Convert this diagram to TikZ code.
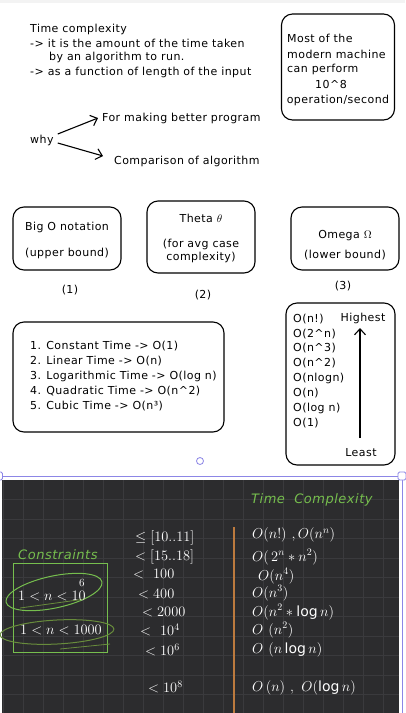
\documentclass[tikz,border=0pt]{standalone}
\usepackage{fontspec}
\setmainfont{DejaVu Sans}[LetterSpace=4]
\usetikzlibrary{arrows.meta}
\definecolor{selpurple}{RGB}{140,134,230}
\definecolor{boardbg}{RGB}{44,44,46}
\definecolor{boardgrid}{RGB}{58,58,61}
\definecolor{chalkgreen}{RGB}{118,190,78}
\definecolor{olivegreen}{RGB}{104,140,60}
\definecolor{chalkorange}{RGB}{188,122,62}
\definecolor{topband}{RGB}{243,243,243}
\tikzset{
  txt/.style={anchor=west, inner sep=0pt, font=\fontsize{11}{13}\selectfont},
  ctxt/.style={inner sep=0pt, font=\fontsize{11}{13}\selectfont},
  sbox/.style={draw, line width=1.1pt, rounded corners=11pt, inner sep=0pt},
  harrow/.style={line width=1.1pt, -{Straight Barb[length=6pt,width=11pt,line width=1.1pt]}},
  chalk/.style={text=white, anchor=west, inner sep=0pt, font=\fontsize{14}{16}\selectfont},
  gchalk/.style={text=chalkgreen, anchor=west, inner sep=0pt, font=\fontsize{13}{15}\selectfont\itshape},
  gridline/.style={draw=boardgrid, line width=0.6pt}
}
\begin{document}
\begin{tikzpicture}[x=1pt,y=-1pt]
\useasboundingbox (0,0) rectangle (405,713);
\fill[white] (0,0) rectangle (405,713);
\fill[topband] (0,0) rectangle (405,3);

% top text
\node[txt] (t1) at (30,29) {Time complexity};
\node[txt] (t2) at (30,43) {-> it is the amount of the time taken};
\node[txt] (t3) at (49,57) {by an algorithm to run.};
\node[txt] (t4) at (30,72) {-> as a function of length of the input};

% machine box
\node[sbox, minimum width=113pt, minimum height=106pt] (mbox) at (338,67) {};
\node[txt] (m1) at (287,38) {Most of the};
\node[txt] (m2) at (287,54) {modern machine};
\node[txt] (m3) at (287,69) {can perform};
\node[ctxt] (m4) at (331,84) {10\^{}8};
\node[ctxt] (m5) at (338,100) {operation/second};

% why
\node[txt] (why) at (30,140) {why};
\node[txt] (better) at (102,118) {For making better program};
\node[txt] (comp) at (114,161) {Comparison of algorithm};
\draw[harrow] ([xshift=4pt,yshift=6pt]why.east) -- ([xshift=-4pt]better.west);
\draw[harrow] ([xshift=4pt,yshift=-3pt]why.east) -- ([xshift=-11pt,yshift=5pt]comp.west);

% notation boxes
\node[sbox, minimum width=108pt, minimum height=63pt] (bigo) at (67,238.5) {};
\node[ctxt] (bigo1) at (67,227) {Big O notation};
\node[ctxt] (bigo2) at (67,253) {(upper bound)};
\node[sbox, minimum width=108pt, minimum height=72pt] (theta) at (201,237) {};
\node[ctxt] (theta1) at (201,218) {Theta $\theta$};
\node[ctxt] (theta2) at (201,244) {(for avg case};
\node[ctxt] (theta3) at (201,257) {complexity)};
\node[sbox, minimum width=108pt, minimum height=63pt] (omega) at (345,238.5) {};
\node[ctxt] (omega1) at (345,236) {Omega $\Omega$};
\node[ctxt] (omega2) at (345,255) {(lower bound)};
\node[ctxt] (n1) at (70,290) {(1)};
\node[ctxt] (n2) at (203,295) {(2)};
\node[ctxt] (n3) at (343,286) {(3)};

% list box
\node[sbox, minimum width=211pt, minimum height=110pt] (list) at (118.5,377) {};
\node[txt] (l1) at (30,346) {1. Constant Time -> O(1)};
\node[txt] (l2) at (30,361) {2. Linear Time -> O(n)};
\node[txt] (l3) at (30,376) {3. Logarithmic Time -> O(log n)};
\node[txt] (l4) at (30,391) {4. Quadratic Time -> O(n\^{}2)};
\node[txt] (l5) at (30,406) {5. Cubic Time -> O(n³)};

% order box
\node[sbox, minimum width=109pt, minimum height=162pt] (order) at (340.5,384) {};
\node[txt] (o1) at (293,319) {O(n!)};
\node[txt] (o2) at (293,334) {O(2\^{}n)};
\node[txt] (o3) at (293,348) {O(n\^{}3)};
\node[txt] (o4) at (293,363) {O(n\^{}2)};
\node[txt] (o5) at (293,378) {O(nlogn)};
\node[txt] (o6) at (293,393) {O(n)};
\node[txt] (o7) at (293,408) {O(log n)};
\node[txt] (o8) at (293,423) {O(1)};
\node[ctxt] (high) at (363,318) {Highest};
\node[ctxt] (least) at (361,453) {Least};
\coordinate (alo) at (360,438);
\coordinate (ahi) at (360,328);
\draw[harrow] (alo) -- (ahi);

% selection handle
\node[draw=selpurple, line width=0.8pt, fill=white, circle, minimum size=7pt, inner sep=0pt] (rot) at (200,461) {};
\coordinate (selL) at (2,476);
\coordinate (selR) at (399,476);

% blackboard
\fill[boardbg] (2,480) rectangle (399,713);
\begin{scope}
\clip (2,480) rectangle (399,713);
\foreach \i in {0,...,19} \draw[gridline] ({3+20*\i},480) -- ({3+20*\i},713);
\foreach \j in {1,...,11} \draw[gridline] (2,{480+19.5*\j}) -- (399,{480+19.5*\j});
\end{scope}
\draw[selpurple, line width=0.9pt] (selL) -- (selR);
\draw[selpurple, line width=0.9pt] (402,480) -- (402,713);
\draw[selpurple, line width=0.8pt, fill=white, rounded corners=1.5pt] (-5,472) rectangle (2.5,480);
\draw[selpurple, line width=0.8pt, fill=white, rounded corners=1.5pt] (398,472) rectangle (406,480);

\node[gchalk] (tc) at (251,500) {Time \ Complexity};
\coordinate (otop) at (234,527);
\coordinate (obot) at (234,713);
\draw[chalkorange, line width=1.6pt] (otop) -- (obot);

\node[gchalk] (cons) at (18,555) {Constraints};
\draw[chalkgreen, line width=1pt] (13,563) rectangle (107,652);
\draw[chalkgreen, line width=1pt, rotate around={12:(54,592)}] (54,592) ellipse [x radius=49, y radius=16];
\draw[olivegreen, line width=1pt, rotate around={3:(57,632)}] (57,632) ellipse [x radius=57, y radius=12];
\draw[olivegreen, line width=0.8pt] (20,608) -- (85,599);
\draw[olivegreen, line width=0.8pt] (60,649) -- (110,644);
\node[chalk] (c1) at (18,596) {$1<n<10$};
\node[chalk, font=\fontsize{11}{13}\selectfont] (c1e) at (79,583) {$6$};
\node[chalk] (c2) at (20,630) {$1<n<1000$};

\node[chalk] (r1) at (135,538) {$\le [10..11]$};
\node[chalk] (r2) at (135,557) {$< [15..18]$};
\node[chalk] (r3) at (133,574) {$<\ 100$};
\node[chalk] (r4) at (138,594) {$< 400$};
\node[chalk] (r5) at (142,612) {$< 2000$};
\node[chalk] (r6) at (140,630) {$<\ 10^4$};
\node[chalk] (r7) at (145,650) {$<10^6$};
\node[chalk] (r8) at (148,687) {$<10^8$};

\node[chalk] (x1) at (252,535) {$O(n!)\ ,O(n^n)$};
\node[chalk] (x2) at (252,557) {$O(\,2^n * n^2)$};
\node[chalk] (x3) at (258,576) {$O(n^4)$};
\node[chalk] (x4) at (252,593) {$O(n^3)$};
\node[chalk] (x5) at (252,612) {$O(n^2 * \log n)$};
\node[chalk] (x6) at (252,630) {$O\ (n^2)$};
\node[chalk] (x7) at (252,650) {$O\ (n \log n)$};
\node[chalk] (x8) at (252,688) {$O\,(n)\ ,\ O(\log n)$};
\end{tikzpicture}
\end{document}
